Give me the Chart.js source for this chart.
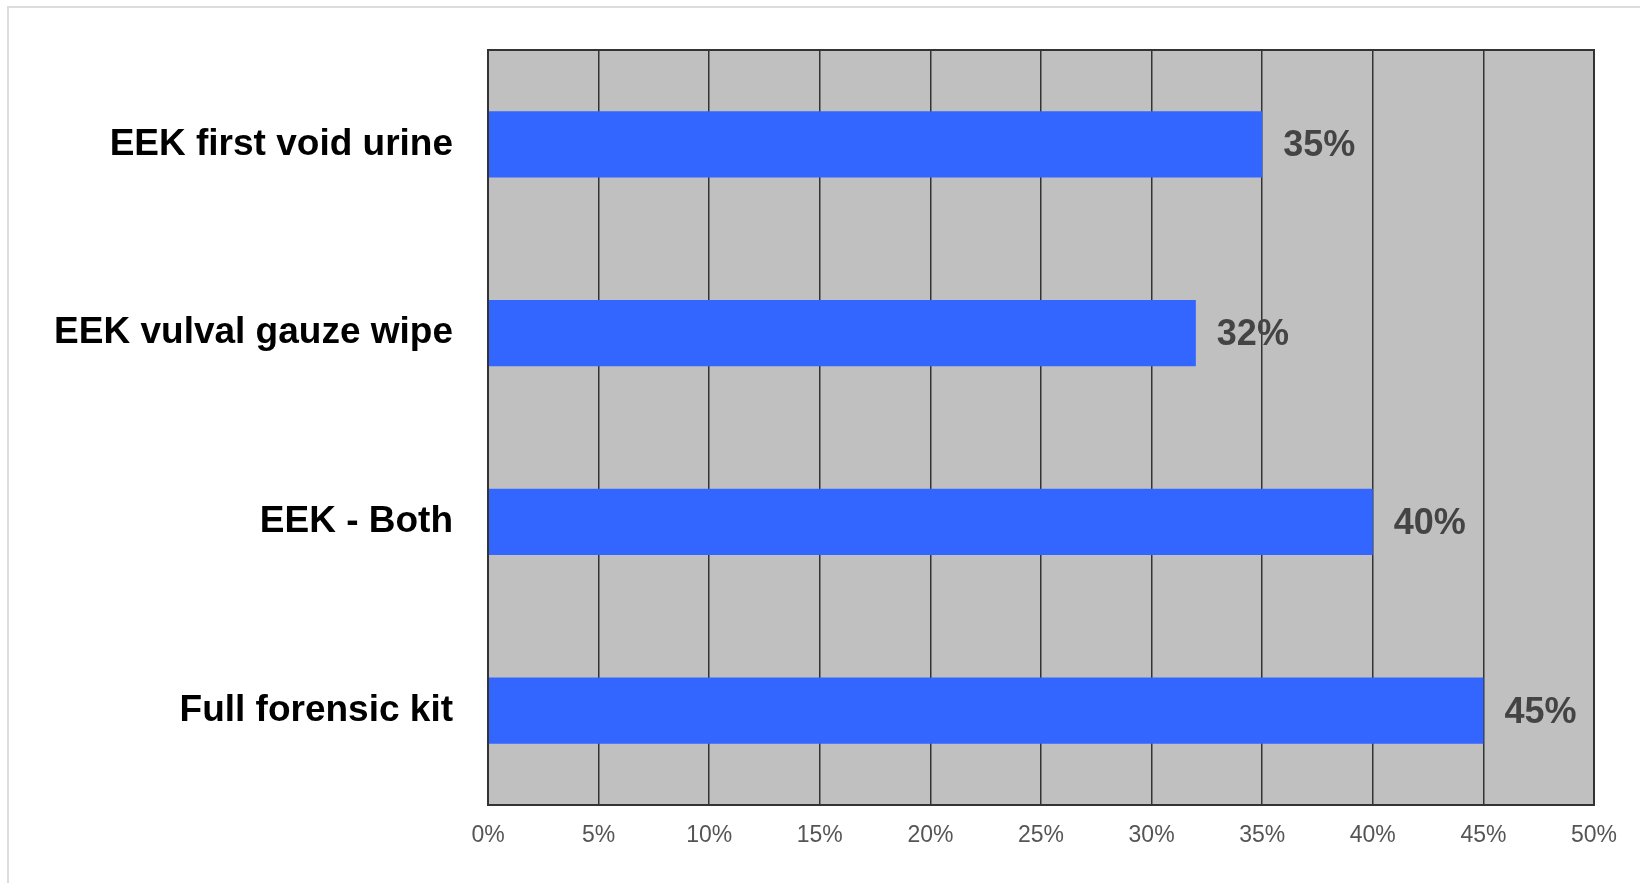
<!DOCTYPE html>
<html lang="en">
<head>
    <meta charset="UTF-8">
    <title>EEK vs forensic kit</title>
    <script src="https://cdn.jsdelivr.net/npm/chart.js"></script>
    <style>
        body {
            margin: 0;
            background: #fff;
            overflow: hidden;
        }

        .frame {
            position: absolute;
            left: 7px;
            top: 6px;
            width: 1700px;
            height: 950px;
            border: 2px solid #dcdcdc;
        }

        #chart {
            position: absolute;
            left: 0;
            top: 0;
        }
    </style>
</head>
<body>
    <div class="frame"></div>
    <canvas id="chart" width="1640" height="883"></canvas>

    <script>
        const categories = ['EEK first void urine', 'EEK vulval gauze wipe', 'EEK - Both', 'Full forensic kit'];
        const values = [35, 32, 40, 45];
        const tickMin = 0;
        const tickMax = 50;
        const tickStep = 5;

        // grey plot background and dark frame round the plot area
        const plotBackground = {
            id: 'plotBackground',
            beforeDraw(chart) {
                const { ctx, chartArea: a } = chart;
                ctx.save();
                ctx.fillStyle = '#c0c0c0';
                ctx.fillRect(a.left, a.top, a.right - a.left, a.bottom - a.top);
                ctx.restore();
            },
            afterDraw(chart) {
                const { ctx, chartArea: a } = chart;
                ctx.save();
                ctx.strokeStyle = '#333';
                ctx.lineWidth = 2;
                ctx.strokeRect(a.left, a.top, a.right - a.left, a.bottom - a.top);
                ctx.restore();
            }
        };

        // percentage written just past the end of each bar
        const barLabels = {
            id: 'barLabels',
            afterDatasetsDraw(chart) {
                const { ctx } = chart;
                const meta = chart.getDatasetMeta(0);
                ctx.save();
                ctx.fillStyle = '#444';
                ctx.font = 'bold 36px "Liberation Sans", Arial, sans-serif';
                ctx.textAlign = 'left';
                ctx.textBaseline = 'middle';
                meta.data.forEach((bar, i) => {
                    ctx.fillText(values[i] + '%', bar.x + 21, bar.y + 2);
                });
                ctx.restore();
            }
        };

        new Chart(document.getElementById('chart'), {
            type: 'bar',
            data: {
                labels: categories,
                datasets: [{
                    data: values,
                    backgroundColor: '#3366ff',
                    borderWidth: 0,
                    categoryPercentage: 1,
                    barPercentage: 0.35
                }]
            },
            options: {
                indexAxis: 'y',
                responsive: false,
                animation: false,
                layout: {
                    padding: { top: 50, right: 46, bottom: 0, left: 0 }
                },
                scales: {
                    x: {
                        min: tickMin,
                        max: tickMax,
                        ticks: {
                            stepSize: tickStep,
                            color: '#555',
                            padding: 17,
                            font: { family: '"Liberation Sans", Arial, sans-serif', size: 23 },
                            callback: v => v + '%'
                        },
                        grid: {
                            color: '#333',
                            lineWidth: 1.5,
                            drawTicks: false
                        },
                        border: { display: false },
                        afterFit(scale) { scale.height = 78; }
                    },
                    y: {
                        ticks: {
                            color: '#000',
                            padding: 35,
                            font: { family: '"Liberation Sans", Arial, sans-serif', size: 37, weight: 'bold' }
                        },
                        grid: { display: false, drawTicks: false },
                        border: { display: false },
                        afterFit(scale) {
                            scale.width = 488;
                            // labels sit mid-band, no need to reserve room above/below
                            scale.paddingTop = 0;
                            scale.paddingBottom = 0;
                        }
                    }
                },
                plugins: {
                    legend: { display: false },
                    tooltip: { enabled: false }
                }
            },
            plugins: [plotBackground, barLabels]
        });
    </script>
</body>
</html>
